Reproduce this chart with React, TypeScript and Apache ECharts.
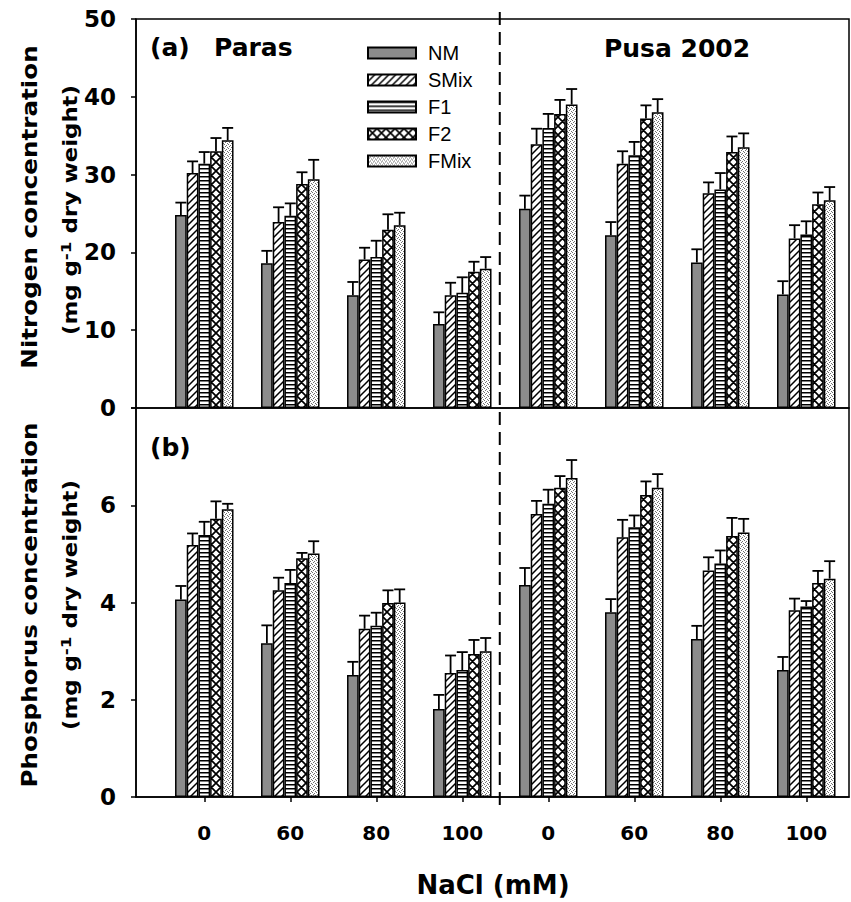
import React, { useEffect, useRef } from 'react';
import * as echarts from 'echarts';

// ---------- data ----------
const tickLabels = ['0', '60', '80', '100', '0', '60', '80', '100'];
const groupPositions = [1, 2, 3, 4, 5, 6, 7, 8];
const seriesNames = ['NM', 'SMix', 'F1', 'F2', 'FMix'];
const separatorPos = 4.436;
const xMin = 0.206;
const xMax = 8.497;

// Nitrogen (mg g-1 dry weight)
const nNM = [24.8, 18.6, 14.5, 10.8, 25.6, 22.2, 18.7, 14.6];
const nSMix = [30.2, 23.9, 19.1, 14.5, 33.9, 31.4, 27.6, 21.8];
const nF1 = [31.4, 24.7, 19.4, 14.8, 36.0, 32.5, 28.1, 22.3];
const nF2 = [33.0, 28.8, 22.9, 17.5, 37.8, 37.2, 32.9, 26.2];
const nFMix = [34.4, 29.4, 23.5, 17.9, 39.0, 38.0, 33.5, 26.7];
const nErrNM = [1.6, 1.6, 1.7, 1.5, 1.7, 1.7, 1.7, 1.7];
const nErrSMix = [1.5, 1.9, 1.5, 1.6, 2.0, 1.6, 1.4, 1.7];
const nErrF1 = [1.5, 1.6, 2.1, 2.0, 1.8, 1.7, 2.1, 1.7];
const nErrF2 = [1.7, 1.5, 2.0, 1.3, 1.8, 1.7, 2.0, 1.5];
const nErrFMix = [1.6, 2.5, 1.6, 1.5, 2.0, 1.7, 1.8, 1.7];

// Phosphorus (mg g-1 dry weight)
const pNM = [4.06, 3.16, 2.51, 1.81, 4.36, 3.8, 3.25, 2.61];
const pSMix = [5.18, 4.25, 3.46, 2.55, 5.82, 5.34, 4.66, 3.84];
const pF1 = [5.39, 4.4, 3.52, 2.61, 6.03, 5.55, 4.8, 3.92];
const pF2 = [5.72, 4.91, 3.99, 2.94, 6.36, 6.21, 5.37, 4.4];
const pFMix = [5.92, 5.01, 4.0, 3.0, 6.56, 6.36, 5.44, 4.49];
const pErrNM = [0.28, 0.37, 0.27, 0.29, 0.35, 0.27, 0.27, 0.27];
const pErrSMix = [0.24, 0.26, 0.27, 0.36, 0.27, 0.36, 0.27, 0.24];
const pErrF1 = [0.27, 0.27, 0.27, 0.37, 0.29, 0.24, 0.27, 0.11];
const pErrF2 = [0.36, 0.11, 0.26, 0.29, 0.24, 0.28, 0.37, 0.25];
const pErrFMix = [0.11, 0.25, 0.27, 0.27, 0.37, 0.28, 0.28, 0.36];

const nitrogenMeans = [nNM, nSMix, nF1, nF2, nFMix];
const nitrogenErrs = [nErrNM, nErrSMix, nErrF1, nErrF2, nErrFMix];
const phosphorusMeans = [pNM, pSMix, pF1, pF2, pFMix];
const phosphorusErrs = [pErrNM, pErrSMix, pErrF1, pErrF2, pErrFMix];

// ---------- styles ----------
const BAR_W = 11.7;
const CAP_W = 11;
const BOLD = 'DejaVu Sans';

function makeCanvas(w: number, h: number, draw: (ctx: CanvasRenderingContext2D) => void) {
  const c = document.createElement('canvas');
  c.width = w;
  c.height = h;
  const ctx = c.getContext('2d')!;
  ctx.fillStyle = '#fff';
  ctx.fillRect(0, 0, w, h);
  draw(ctx);
  return { image: c, repeat: 'repeat', imageWidth: w, imageHeight: h } as any;
}

function buildFills(): any[] {
  const diag = makeCanvas(7, 7, (ctx) => {
    ctx.strokeStyle = '#000';
    ctx.lineWidth = 1.5;
    const s = 7;
    ctx.beginPath();
    ctx.moveTo(-1, s + 1); ctx.lineTo(s + 1, -1);
    ctx.moveTo(-1, 1); ctx.lineTo(1, -1);
    ctx.moveTo(s - 1, s + 1); ctx.lineTo(s + 1, s - 1);
    ctx.stroke();
  });
  const hl = makeCanvas(4, 4, (ctx) => {
    ctx.fillStyle = '#000';
    ctx.fillRect(0, 0, 4, 1.5);
  });
  const cross = makeCanvas(9, 9, (ctx) => {
    ctx.strokeStyle = '#000';
    ctx.lineWidth = 1.7;
    const s = 9;
    ctx.beginPath();
    ctx.moveTo(-1, s + 1); ctx.lineTo(s + 1, -1);
    ctx.moveTo(-1, 1); ctx.lineTo(1, -1);
    ctx.moveTo(s - 1, s + 1); ctx.lineTo(s + 1, s - 1);
    ctx.moveTo(-1, -1); ctx.lineTo(s + 1, s + 1);
    ctx.moveTo(-1, s - 1); ctx.lineTo(1, s + 1);
    ctx.moveTo(s - 1, -1); ctx.lineTo(s + 1, 1);
    ctx.stroke();
  });
  const dots = makeCanvas(4, 4, (ctx) => {
    ctx.fillStyle = '#707070';
    ctx.fillRect(0, 0, 1, 1);
    ctx.fillRect(2, 1, 1, 1);
    ctx.fillRect(1, 2, 1, 1);
    ctx.fillRect(3, 3, 1, 1);
  });
  return ['#8c8c8c', diag, hl, cross, dots];
}

export default function App() {
  const ref = useRef<HTMLDivElement>(null);

  useEffect(() => {
    document.body.style.margin = '0';
    const chart = echarts.init(ref.current!, null, { renderer: 'svg' });
    const fills = buildFills();

    const barSeries = (gridIdx: number, means: number[][]) =>
      means.map((vals, k) => ({
        type: 'bar',
        name: seriesNames[k],
        xAxisIndex: gridIdx,
        yAxisIndex: gridIdx,
        barWidth: BAR_W,
        barGap: '0%',
        data: vals.map((v, i) => [groupPositions[i], v]),
        itemStyle: { color: fills[k], borderColor: '#000', borderWidth: 1.5 },
        emphasis: { disabled: true },
        z: 2,
      }));

    const errSeries = (gridIdx: number, means: number[][], errs: number[][]) => {
      const data: number[][] = [];
      means.forEach((vals, k) =>
        vals.forEach((v, i) => data.push([groupPositions[i], v, errs[k][i], k]))
      );
      return {
        type: 'custom',
        xAxisIndex: gridIdx,
        yAxisIndex: gridIdx,
        z: 3,
        encode: { x: 0, y: 1 },
        data,
        renderItem: (_p: any, api: any) => {
          const x = api.value(0);
          const m = api.value(1);
          const e = api.value(2);
          const k = api.value(3);
          const base = api.coord([x, m]);
          const top = api.coord([x, m + e]);
          const cx = base[0] + (k - 2) * BAR_W;
          const st = { stroke: '#000', lineWidth: 1.8 };
          return {
            type: 'group',
            children: [
              { type: 'line', shape: { x1: cx, y1: base[1], x2: cx, y2: top[1] }, style: st },
              { type: 'line', shape: { x1: cx - CAP_W / 2, y1: top[1], x2: cx + CAP_W / 2, y2: top[1] }, style: st },
            ],
          };
        },
      };
    };

    const yLabel = { color: '#000', fontFamily: BOLD, fontWeight: 'bold', fontSize: 23, margin: 20 };
    const axisLine = { show: true, lineStyle: { color: '#000', width: 1.5 } };
    const axisTick = { show: true, inside: false, length: 5, lineStyle: { color: '#000', width: 1.5 } };

    chart.setOption({
      animation: false,
      backgroundColor: '#fff',
      grid: [
        { left: 136, top: 19, width: 713, height: 389, show: true, borderColor: '#000', borderWidth: 1.5 },
        { left: 136, top: 408, width: 713, height: 389, show: true, borderColor: '#000', borderWidth: 1.5 },
      ],
      legend: {
        data: seriesNames,
        orient: 'vertical',
        left: 362,
        top: 38,
        itemWidth: 48,
        itemHeight: 11,
        itemGap: 7,
        icon: 'rect',
        selectedMode: false,
        textStyle: { fontSize: 20, fontFamily: 'Liberation Sans', color: '#000', padding: [0, 0, 0, 7] },
      },
      xAxis: [
        { type: 'value', gridIndex: 0, min: xMin, max: xMax, show: false },
        {
          type: 'value',
          gridIndex: 1,
          min: xMin,
          max: xMax,
          axisLine,
          axisTick: { ...axisTick, customValues: groupPositions },
          axisLabel: {
            customValues: groupPositions,
            formatter: (v: number) => tickLabels[Math.round(v) - 1] ?? '',
            color: '#000',
            fontFamily: BOLD,
            fontWeight: 'bold',
            fontSize: 20,
            margin: 26,
          },
          splitLine: { show: false },
        },
      ],
      yAxis: [
        {
          type: 'value', gridIndex: 0, min: 0, max: 50, interval: 10,
          axisLine, axisTick, axisLabel: yLabel, splitLine: { show: false },
        },
        {
          type: 'value', gridIndex: 1, min: 0, max: 8, interval: 2,
          axisLine, axisTick,
          axisLabel: { ...yLabel, formatter: (v: number) => (v === 8 ? '' : String(v)) },
          splitLine: { show: false },
        },
      ],
      series: [
        ...barSeries(0, nitrogenMeans),
        ...barSeries(1, phosphorusMeans),
        errSeries(0, nitrogenMeans, nitrogenErrs),
        errSeries(1, phosphorusMeans, phosphorusErrs),
      ],
    });

    const sepX = chart.convertToPixel({ xAxisIndex: 1 }, separatorPos) as number;
    const titleStyle = { fill: '#000', font: `bold 25px "${BOLD}"`, verticalAlign: 'middle' };
    const yNameStyle = { fill: '#000', font: `bold 22px "${BOLD}"`, align: 'center', verticalAlign: 'middle' };
    const unitRich = {
      text: '(mg g{sup|-1} dry weight)',
      fill: '#000',
      font: `bold 19px "${BOLD}"`,
      align: 'center',
      verticalAlign: 'middle',
      rich: { sup: { fontSize: 14, fontWeight: 'bold', fontFamily: BOLD, verticalAlign: 'top', padding: [0, 0, 9, 0] } },
    };

    chart.setOption({
      graphic: [
        {
          type: 'line',
          shape: { x1: sepX, y1: 12, x2: sepX, y2: 810 },
          style: { stroke: '#000', lineWidth: 2, lineDash: [13, 7] },
          z: 10,
        },
        { type: 'text', x: 150, y: 47, style: { ...titleStyle, text: '(a)' } },
        { type: 'text', x: 214, y: 47, style: { ...titleStyle, text: 'Paras' } },
        { type: 'text', x: 677, y: 48, style: { ...titleStyle, text: 'Pusa 2002', align: 'center' } },
        { type: 'text', x: 150, y: 447, style: { ...titleStyle, text: '(b)' } },
        { type: 'text', x: 29, y: 207, rotation: Math.PI / 2, scaleX: 1.12, style: { ...yNameStyle, text: 'Nitrogen concentration' } },
        { type: 'text', x: 71, y: 210, rotation: Math.PI / 2, scaleX: 1.2, style: { ...unitRich } },
        { type: 'text', x: 29, y: 605, rotation: Math.PI / 2, scaleX: 1.12, style: { ...yNameStyle, text: 'Phosphorus concentration' } },
        { type: 'text', x: 71, y: 605, rotation: Math.PI / 2, scaleX: 1.2, style: { ...unitRich } },
        {
          type: 'text', x: 493, y: 885,
          style: { fill: '#000', font: `bold 26px "${BOLD}"`, text: 'NaCl (mM)', align: 'center', verticalAlign: 'middle' },
        },
      ],
    });

    return () => chart.dispose();
  }, []);

  return <div ref={ref} style={{ position: 'fixed', left: 0, top: 0, width: 851, height: 902 }} />;
}
